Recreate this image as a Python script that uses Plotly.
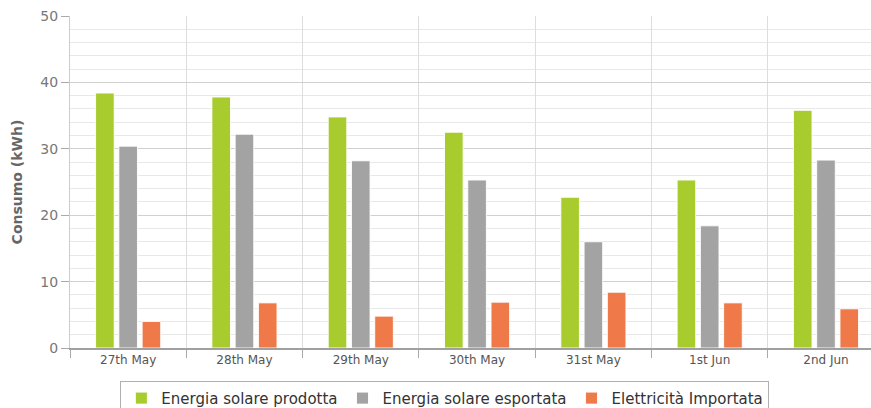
import plotly.graph_objects as go

categories = ["27th May", "28th May", "29th May", "30th May", "31st May", "1st Jun", "2nd Jun"]
prodotta = [38.4, 37.8, 34.8, 32.5, 22.7, 25.3, 35.8]
esportata = [30.4, 32.2, 28.2, 25.3, 16.0, 18.4, 28.3]
importata = [4.0, 6.8, 4.8, 6.9, 8.4, 6.8, 5.9]

series = [
    ("Energia solare prodotta", prodotta, "#a8cc2e"),
    ("Energia solare esportata", esportata, "#a3a3a3"),
    ("Elettricità Importata", importata, "#ef7949"),
]

fig = go.Figure()
for name, vals, col in series:
    fig.add_trace(go.Bar(
        x=categories, y=vals, name=name,
        marker=dict(color=col, line=dict(color="rgba(255,255,255,0.9)", width=1)),
    ))

fig.update_layout(
    width=871, height=408,
    margin=dict(l=70, r=0, t=16, b=60, autoexpand=False),
    paper_bgcolor="white", plot_bgcolor="white",
    barmode="group", bargap=0.4, bargroupgap=0.2,
    font=dict(family="DejaVu Sans", color="#666666", size=12),
    showlegend=True,
    legend=dict(
        orientation="h", x=0.468, xanchor="center", y=-0.099, yanchor="top",
        bordercolor="#b0b0b0", borderwidth=1, bgcolor="white",
        font=dict(family="DejaVu Sans", size=15, color="#333333"),
        itemwidth=30, tracegroupgap=0,
    ),
)
fig.update_xaxes(
    type="category", range=[-0.5, 6.387], tickson="boundaries",
    showgrid=True, gridcolor="#dddddd", gridwidth=1,
    ticks="outside", ticklen=8, tickcolor="#aaaaaa",
    showline=True, linecolor="#a0a0a0", linewidth=2,
    tickfont=dict(size=12, color="#555555"),
)
fig.update_yaxes(
    range=[0, 50], dtick=10, showgrid=True, gridcolor="#d0d0d0", gridwidth=1,
    ticks="outside", ticklen=8, tickcolor="#aaaaaa",
    showline=True, linecolor="#cccccc", linewidth=1, zeroline=False,
    tickfont=dict(size=14, color="#777777"),
    minor=dict(dtick=2, showgrid=True, gridcolor="#e8e8e8", gridwidth=1, ticks=""),
    title=dict(text="<b>Consumo (kWh)</b>", font=dict(size=14, color="#666666"), standoff=14),
)
fig.write_html("out.html")
